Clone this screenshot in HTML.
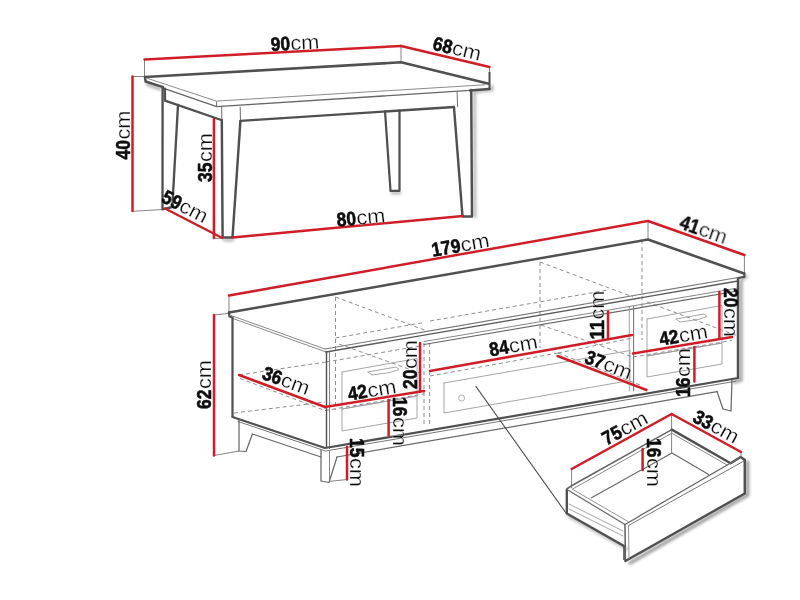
<!DOCTYPE html>
<html><head><meta charset="utf-8"><title>Dimensions</title>
<style>
html,body{margin:0;padding:0;background:#fff;}
body{width:800px;height:600px;overflow:hidden;font-family:"Liberation Sans",sans-serif;}
svg{display:block;}
text{font-family:"Liberation Sans",sans-serif;}
</style></head><body>
<svg width="800" height="600" viewBox="0 0 800 600">
<defs><filter id="bl" x="-20%" y="-20%" width="140%" height="140%"><feGaussianBlur stdDeviation="1.8"/></filter></defs>
<rect width="800" height="600" fill="#fff"/>
<g style="filter:blur(0.45px)">
<g filter="url(#bl)" fill="none" stroke-linecap="round">
<polyline points="741,280 741,380 734,382" stroke="#9a9a9a" stroke-width="3.0" fill="none"/>
<polyline points="747.5,462 747.5,495 630,563" stroke="#999" stroke-width="3.5" fill="none"/>
<polyline points="627,549 568,516" stroke="#aaa" stroke-width="2.5" fill="none"/>
<polyline points="474.5,92 475,217" stroke="#aaa" stroke-width="2.5" fill="none"/>
<polyline points="147,84 160,89" stroke="#aaa" stroke-width="3" fill="none"/>
<polyline points="224,240 233,240" stroke="#aaa" stroke-width="2.5" fill="none"/>
<polyline points="392,193 400,193" stroke="#aaa" stroke-width="2.5" fill="none"/>
<polyline points="492,86 492,90 474,92" stroke="#aaa" stroke-width="2.5" fill="none"/>
<polyline points="747,276 741,281" stroke="#aaa" stroke-width="2.5" fill="none"/>
</g>
<line x1="144.5" y1="59.5" x2="144.5" y2="76" stroke="#777" stroke-width="0.9" />
<line x1="401" y1="46" x2="401" y2="62" stroke="#777" stroke-width="0.9" />
<line x1="489.5" y1="67" x2="489.5" y2="84" stroke="#777" stroke-width="0.9" />
<line x1="132.5" y1="76.5" x2="145" y2="76.5" stroke="#777" stroke-width="0.9" />
<line x1="132.5" y1="211.3" x2="162.5" y2="209.5" stroke="#777" stroke-width="0.9" />
<line x1="214" y1="238.6" x2="222.5" y2="238.2" stroke="#777" stroke-width="0.9" />
<polyline points="145,77 401,62.3 488.9,83.8" fill="none" stroke="#505050" stroke-width="2.58" stroke-linejoin="round" stroke-linecap="round" />
<polyline points="145,77 145.6,81.5 163,87.2" fill="none" stroke="#505050" stroke-width="2.46" stroke-linejoin="round" stroke-linecap="round" />
<polyline points="146.7,78.1 216.4,101.1 485,84.8" fill="none" stroke="#8a8a8a" stroke-width="1.0" stroke-linejoin="round" stroke-linecap="round" />
<polyline points="163,88.2 216.7,106.7 470,90.4" fill="none" stroke="#666" stroke-width="1.3" stroke-linejoin="round" stroke-linecap="round" />
<polyline points="470,90.4 489.5,88.9" fill="none" stroke="#505050" stroke-width="2.46" stroke-linejoin="round" stroke-linecap="round" />
<line x1="216.5" y1="101.5" x2="216.6" y2="106.5" stroke="#777" stroke-width="1.1" />
<line x1="489.5" y1="72" x2="489.5" y2="89.5" stroke="#505050" stroke-width="2.02" />
<polyline points="164.9,88.7 165,100.7 221.3,120" fill="none" stroke="#505050" stroke-width="2.35" stroke-linejoin="round" stroke-linecap="round" />
<polyline points="240.5,120.8 454,107" fill="none" stroke="#505050" stroke-width="2.35" stroke-linejoin="round" stroke-linecap="round" />
<line x1="457.1" y1="91.5" x2="457.6" y2="107" stroke="#777" stroke-width="1.1" />
<line x1="240.2" y1="107" x2="240.5" y2="121" stroke="#777" stroke-width="1.1" />
<line x1="221.7" y1="107" x2="221.8" y2="120" stroke="#777" stroke-width="1.1" />
<polyline points="162.6,87 162.5,209.3 172.3,207 178,105" fill="none" stroke="#505050" stroke-width="2.35" stroke-linejoin="round" stroke-linecap="round" />
<polyline points="221.8,120 222.6,237.5 232.5,237.5 240.4,121" fill="none" stroke="#505050" stroke-width="2.46" stroke-linejoin="round" stroke-linecap="round" />
<polyline points="385,111 390.5,190.8 399.5,190.8 399.5,110.5" fill="none" stroke="#505050" stroke-width="2.24" stroke-linejoin="round" stroke-linecap="round" />
<polyline points="454,107.5 462.5,216.5 472,216.5 471.2,90" fill="none" stroke="#505050" stroke-width="2.46" stroke-linejoin="round" stroke-linecap="round" />
<line x1="144.5" y1="59.5" x2="401" y2="46" stroke="#cf1e28" stroke-width="2.5" stroke-linecap="round"/>
<line x1="401" y1="46" x2="489.5" y2="67" stroke="#cf1e28" stroke-width="2.5" stroke-linecap="round"/>
<line x1="132.5" y1="76.5" x2="132.5" y2="211" stroke="#cf1e28" stroke-width="2.5" stroke-linecap="round"/>
<line x1="165" y1="208.5" x2="222.3" y2="238" stroke="#cf1e28" stroke-width="2.5" stroke-linecap="round"/>
<line x1="213.9" y1="119" x2="213.9" y2="238" stroke="#cf1e28" stroke-width="2.5" stroke-linecap="round"/>
<line x1="232.5" y1="237.5" x2="463" y2="216" stroke="#cf1e28" stroke-width="2.5" stroke-linecap="round"/>
<line x1="229" y1="295.5" x2="229" y2="313" stroke="#777" stroke-width="0.9" />
<line x1="648" y1="221" x2="648" y2="239" stroke="#777" stroke-width="0.9" />
<line x1="744.4" y1="255" x2="744.4" y2="273" stroke="#777" stroke-width="0.9" />
<line x1="214" y1="315" x2="229" y2="313.3" stroke="#777" stroke-width="0.9" />
<line x1="214" y1="455.5" x2="239" y2="451" stroke="#777" stroke-width="0.9" />
<line x1="330" y1="481.3" x2="347" y2="479.5" stroke="#777" stroke-width="0.9" />
<line x1="335.5" y1="297" x2="335.5" y2="410" stroke="#8e8e8e" stroke-width="1.0" stroke-dasharray="4 3"/>
<line x1="540" y1="262" x2="540" y2="348" stroke="#8e8e8e" stroke-width="1.0" stroke-dasharray="4 3"/>
<line x1="642" y1="240" x2="642" y2="340" stroke="#8e8e8e" stroke-width="1.0" stroke-dasharray="4 3"/>
<line x1="335.5" y1="297" x2="427" y2="331" stroke="#8e8e8e" stroke-width="1.0" stroke-dasharray="4 3"/>
<line x1="540" y1="262" x2="633" y2="297" stroke="#8e8e8e" stroke-width="1.0" stroke-dasharray="4 3"/>
<line x1="335.5" y1="338" x2="424" y2="322.5" stroke="#8e8e8e" stroke-width="1.0" stroke-dasharray="4 3"/>
<line x1="430" y1="321" x2="608" y2="290" stroke="#8e8e8e" stroke-width="1.0" stroke-dasharray="4 3"/>
<line x1="239" y1="375" x2="326" y2="362" stroke="#8e8e8e" stroke-width="1.0" stroke-dasharray="4 3"/>
<line x1="326" y1="362" x2="420" y2="346" stroke="#8e8e8e" stroke-width="1.0" stroke-dasharray="4 3"/>
<line x1="234" y1="413" x2="325" y2="402" stroke="#8e8e8e" stroke-width="1.0" stroke-dasharray="4 3"/>
<line x1="240" y1="378.5" x2="325" y2="410.5" stroke="#8e8e8e" stroke-width="1.0" stroke-dasharray="4 3"/>
<line x1="325" y1="410.5" x2="424" y2="394" stroke="#8e8e8e" stroke-width="1.0" stroke-dasharray="4 3"/>
<line x1="339" y1="344" x2="420" y2="373" stroke="#8e8e8e" stroke-width="1.0" stroke-dasharray="4 3"/>
<line x1="541" y1="325" x2="633" y2="357" stroke="#8e8e8e" stroke-width="1.0" stroke-dasharray="4 3"/>
<line x1="424" y1="343" x2="424" y2="427" stroke="#8e8e8e" stroke-width="1.0" stroke-dasharray="4 3"/>
<line x1="429.6" y1="343" x2="429.6" y2="427" stroke="#8e8e8e" stroke-width="1.0" stroke-dasharray="4 3"/>
<line x1="430" y1="376" x2="558" y2="353" stroke="#8e8e8e" stroke-width="1.0" stroke-dasharray="4 3"/>
<line x1="558" y1="353" x2="633" y2="338" stroke="#8e8e8e" stroke-width="1.0" stroke-dasharray="4 3"/>
<line x1="558" y1="353" x2="640" y2="385" stroke="#8e8e8e" stroke-width="1.0" stroke-dasharray="4 3"/>
<line x1="633" y1="357" x2="732" y2="340.5" stroke="#8e8e8e" stroke-width="1.0" stroke-dasharray="4 3"/>
<line x1="647" y1="302" x2="738" y2="336" stroke="#8e8e8e" stroke-width="1.0" stroke-dasharray="4 3"/>
<polyline points="342,372 417,358.5 417,396 342,409 342,372" fill="none" stroke="#9c9c9c" stroke-width="0.9" stroke-linejoin="round" stroke-linecap="round" />
<polyline points="342,409 417,396 417,418 342,431 342,409" fill="none" stroke="#9c9c9c" stroke-width="0.9" stroke-linejoin="round" stroke-linecap="round" />
<polyline points="444,383 630,350.5 630,380.5 444,413 444,383" fill="none" stroke="#9c9c9c" stroke-width="0.9" stroke-linejoin="round" stroke-linecap="round" />
<polyline points="647,319 722,305.5 722,343 647,356 647,319" fill="none" stroke="#9c9c9c" stroke-width="0.9" stroke-linejoin="round" stroke-linecap="round" />
<polyline points="647,356 722,343 722,364 647,377 647,356" fill="none" stroke="#9c9c9c" stroke-width="0.9" stroke-linejoin="round" stroke-linecap="round" />
<polyline points="368,372 396,367 399,369.5 390,372.5 372,375 368,372" fill="none" stroke="#9c9c9c" stroke-width="0.9" stroke-linejoin="round" stroke-linecap="round" />
<polyline points="676,319 704,314 707,316.5 698,319.5 680,322 676,319" fill="none" stroke="#9c9c9c" stroke-width="0.9" stroke-linejoin="round" stroke-linecap="round" />
<circle cx="461.6" cy="398" r="3" fill="none" stroke="#aaa" stroke-width="0.9"/>
<polyline points="229,312.5 648,239.5 744,273.5" fill="none" stroke="#505050" stroke-width="2.46" stroke-linejoin="round" stroke-linecap="round" />
<polyline points="229,312.5 229.5,316.5 232.5,317.5" fill="none" stroke="#505050" stroke-width="2.24" stroke-linejoin="round" stroke-linecap="round" />
<polyline points="744.4,273 744.4,276.8 738,278" fill="none" stroke="#505050" stroke-width="2.24" stroke-linejoin="round" stroke-linecap="round" />
<polyline points="231,315.5 325,349" fill="none" stroke="#8a8a8a" stroke-width="1.0" stroke-linejoin="round" stroke-linecap="round" />
<polyline points="325,349 738,277.5" fill="none" stroke="#777" stroke-width="1.1" stroke-linejoin="round" stroke-linecap="round" />
<polyline points="233,318.5 326,352" fill="none" stroke="#8a8a8a" stroke-width="1.0" stroke-linejoin="round" stroke-linecap="round" />
<polyline points="326,352 738,281" fill="none" stroke="#5a5a5a" stroke-width="1.3" stroke-linejoin="round" stroke-linecap="round" />
<polyline points="424,341.5 738,288" fill="none" stroke="#888" stroke-width="1.0" stroke-linejoin="round" stroke-linecap="round" />
<polyline points="424,344.5 738,291" fill="none" stroke="#666" stroke-width="1.2" stroke-linejoin="round" stroke-linecap="round" />
<line x1="232.5" y1="317.5" x2="232.5" y2="417" stroke="#505050" stroke-width="2.24" />
<line x1="326.5" y1="351" x2="326.5" y2="448" stroke="#505050" stroke-width="1.4" />
<line x1="329.5" y1="352" x2="329.5" y2="449" stroke="#777" stroke-width="0.9" />
<line x1="738" y1="278" x2="738" y2="378" stroke="#505050" stroke-width="2.46" />
<line x1="633.6" y1="306" x2="633.6" y2="391" stroke="#777" stroke-width="1.1" />
<line x1="629.3" y1="307" x2="629.3" y2="391.5" stroke="#999" stroke-width="0.9" />
<polyline points="232.5,417 325,448 738,378" fill="none" stroke="#505050" stroke-width="2.24" stroke-linejoin="round" stroke-linecap="round" />
<polyline points="238,421.5 325.5,451 736,381.2" fill="none" stroke="#777" stroke-width="1.0" stroke-linejoin="round" stroke-linecap="round" />
<polyline points="252.4,434 321,457" fill="none" stroke="#686868" stroke-width="1.25" stroke-linejoin="round" stroke-linecap="round" />
<polyline points="337,457 717,391.6" fill="none" stroke="#686868" stroke-width="1.25" stroke-linejoin="round" stroke-linecap="round" />
<polyline points="239,420 239,451 246,451.5 252.4,434" fill="none" stroke="#686868" stroke-width="1.25" stroke-linejoin="round" stroke-linecap="round" />
<polyline points="321,450 321,481 329,482.5 337,457" fill="none" stroke="#686868" stroke-width="1.25" stroke-linejoin="round" stroke-linecap="round" />
<line x1="329.5" y1="451" x2="329.5" y2="482" stroke="#777" stroke-width="0.9" />
<polyline points="717,391.5 723,409 731,411 732,379.5" fill="none" stroke="#686868" stroke-width="1.25" stroke-linejoin="round" stroke-linecap="round" />
<line x1="475.6" y1="386" x2="566" y2="513" stroke="#484848" stroke-width="1.15" />
<line x1="229" y1="295.5" x2="648" y2="221" stroke="#cf1e28" stroke-width="2.5" stroke-linecap="round"/>
<line x1="648" y1="221" x2="744.4" y2="255" stroke="#cf1e28" stroke-width="2.5" stroke-linecap="round"/>
<line x1="214" y1="315" x2="214" y2="455.5" stroke="#cf1e28" stroke-width="2.5" stroke-linecap="round"/>
<line x1="239" y1="375" x2="325" y2="407" stroke="#cf1e28" stroke-width="2.5" stroke-linecap="round"/>
<line x1="325" y1="407" x2="424" y2="391" stroke="#cf1e28" stroke-width="2.5" stroke-linecap="round"/>
<line x1="420" y1="343" x2="420" y2="391" stroke="#cf1e28" stroke-width="2.5" stroke-linecap="round"/>
<line x1="388.6" y1="400" x2="388.6" y2="435.6" stroke="#cf1e28" stroke-width="2.5" stroke-linecap="round"/>
<line x1="347" y1="447" x2="347" y2="479.5" stroke="#cf1e28" stroke-width="2.5" stroke-linecap="round"/>
<line x1="430" y1="371" x2="632" y2="335" stroke="#cf1e28" stroke-width="2.5" stroke-linecap="round"/>
<line x1="608" y1="311.5" x2="608" y2="339" stroke="#cf1e28" stroke-width="2.5" stroke-linecap="round"/>
<line x1="557.6" y1="356" x2="646.4" y2="390" stroke="#cf1e28" stroke-width="2.5" stroke-linecap="round"/>
<line x1="633" y1="353.6" x2="732" y2="337" stroke="#cf1e28" stroke-width="2.5" stroke-linecap="round"/>
<line x1="719.4" y1="292" x2="719.4" y2="338" stroke="#cf1e28" stroke-width="2.5" stroke-linecap="round"/>
<line x1="694.4" y1="347" x2="694.4" y2="381.5" stroke="#cf1e28" stroke-width="2.5" stroke-linecap="round"/>
<line x1="571.6" y1="469" x2="571.6" y2="488" stroke="#777" stroke-width="0.9" />
<line x1="671.6" y1="414" x2="671.6" y2="453" stroke="#777" stroke-width="0.9" />
<line x1="741" y1="452" x2="741" y2="458" stroke="#777" stroke-width="0.9" />
<polyline points="566.7,489 572,485.5 671.8,429.6" fill="none" stroke="#666" stroke-width="1.5" stroke-linejoin="round" stroke-linecap="round" />
<polyline points="671.8,429.6 730.6,463.2 740.6,457 744.8,460" fill="none" stroke="#505050" stroke-width="2.46" stroke-linejoin="round" stroke-linecap="round" />
<polyline points="573,488.8 671.8,433.2 727,465" fill="none" stroke="#888" stroke-width="1.0" stroke-linejoin="round" stroke-linecap="round" />
<polyline points="591.5,497.7 672,453 708.7,474.4" fill="none" stroke="#666" stroke-width="1.1" stroke-linejoin="round" stroke-linecap="round" />
<line x1="566.8" y1="489" x2="566.8" y2="513.5" stroke="#505050" stroke-width="2.35" />
<polyline points="567,489.5 625,524.5" fill="none" stroke="#666" stroke-width="1.2" stroke-linejoin="round" stroke-linecap="round" />
<polyline points="572,489 628,521.5" fill="none" stroke="#888" stroke-width="0.9" stroke-linejoin="round" stroke-linecap="round" />
<polyline points="566.8,513.5 624,546" fill="none" stroke="#505050" stroke-width="2.35" stroke-linejoin="round" stroke-linecap="round" />
<polyline points="569,504 623,531" fill="none" stroke="#9c9c9c" stroke-width="0.9" stroke-linejoin="round" stroke-linecap="round" />
<polyline points="569,509 623,536" fill="none" stroke="#9c9c9c" stroke-width="0.9" stroke-linejoin="round" stroke-linecap="round" />
<polyline points="625,524.5 625.4,561" fill="none" stroke="#606060" stroke-width="1.5" stroke-linejoin="round" stroke-linecap="round" />
<polyline points="625.4,561 744.8,493.5 744.8,460" fill="none" stroke="#505050" stroke-width="2.46" stroke-linejoin="round" stroke-linecap="round" />
<polyline points="625,524.5 740.6,457.3" fill="none" stroke="#666" stroke-width="1.3" stroke-linejoin="round" stroke-linecap="round" />
<polyline points="628.5,525.5 744,461" fill="none" stroke="#777" stroke-width="1.0" stroke-linejoin="round" stroke-linecap="round" />
<line x1="628.5" y1="525.5" x2="629" y2="559" stroke="#888" stroke-width="0.9" />
<line x1="624" y1="546" x2="624" y2="560" stroke="#505050" stroke-width="1.6" />
<line x1="571.6" y1="469" x2="671.6" y2="414" stroke="#cf1e28" stroke-width="2.5" stroke-linecap="round"/>
<line x1="671.6" y1="414" x2="741" y2="452" stroke="#cf1e28" stroke-width="2.5" stroke-linecap="round"/>
<line x1="642.6" y1="449" x2="642.6" y2="470" stroke="#cf1e28" stroke-width="2.5" stroke-linecap="round"/>
<g style="filter:grayscale(1)">
<g transform="translate(295 43.5) rotate(-3)" fill="#0d0d0d"><text x="-24.40" y="6.3" font-weight="700" font-size="19.5" textLength="19.50" lengthAdjust="spacingAndGlyphs" stroke="#0d0d0d" stroke-width="0.55" stroke-linejoin="round">90</text><text x="-4.60" y="6.3" font-size="20.2" textLength="29" lengthAdjust="spacingAndGlyphs" stroke="#fff" stroke-width="0.25">cm</text></g>
<g transform="translate(457 49) rotate(13.4)" fill="#0d0d0d"><text x="-24.40" y="6.3" font-weight="700" font-size="19.5" textLength="19.50" lengthAdjust="spacingAndGlyphs" stroke="#0d0d0d" stroke-width="0.55" stroke-linejoin="round">68</text><text x="-4.60" y="6.3" font-size="20.2" textLength="29" lengthAdjust="spacingAndGlyphs" stroke="#fff" stroke-width="0.25">cm</text></g>
<g transform="translate(123.5 135) rotate(-90)" fill="#0d0d0d"><text x="-24.40" y="6.3" font-weight="700" font-size="19.5" textLength="19.50" lengthAdjust="spacingAndGlyphs" stroke="#0d0d0d" stroke-width="0.55" stroke-linejoin="round">40</text><text x="-4.60" y="6.3" font-size="20.2" textLength="29" lengthAdjust="spacingAndGlyphs" stroke="#fff" stroke-width="0.25">cm</text></g>
<g transform="translate(205.2 157.5) rotate(-90)" fill="#0d0d0d"><text x="-24.40" y="6.3" font-weight="700" font-size="19.5" textLength="19.50" lengthAdjust="spacingAndGlyphs" stroke="#0d0d0d" stroke-width="0.55" stroke-linejoin="round">35</text><text x="-4.60" y="6.3" font-size="20.2" textLength="29" lengthAdjust="spacingAndGlyphs" stroke="#fff" stroke-width="0.25">cm</text></g>
<g transform="translate(184.8 206.8) rotate(27.5)" fill="#0d0d0d"><text x="-24.40" y="6.3" font-weight="700" font-size="19.5" textLength="19.50" lengthAdjust="spacingAndGlyphs" stroke="#0d0d0d" stroke-width="0.55" stroke-linejoin="round">59</text><text x="-4.60" y="6.3" font-size="20.2" textLength="29" lengthAdjust="spacingAndGlyphs" stroke="#fff" stroke-width="0.25">cm</text></g>
<g transform="translate(361 218) rotate(-5.3)" fill="#0d0d0d"><text x="-24.40" y="6.3" font-weight="700" font-size="19.5" textLength="19.50" lengthAdjust="spacingAndGlyphs" stroke="#0d0d0d" stroke-width="0.55" stroke-linejoin="round">80</text><text x="-4.60" y="6.3" font-size="20.2" textLength="29" lengthAdjust="spacingAndGlyphs" stroke="#fff" stroke-width="0.25">cm</text></g>
<g transform="translate(460.5 245.5) rotate(-10)" fill="#0d0d0d"><text x="-29.27" y="6.3" font-weight="700" font-size="19.5" textLength="29.25" lengthAdjust="spacingAndGlyphs" stroke="#0d0d0d" stroke-width="0.55" stroke-linejoin="round">179</text><text x="0.28" y="6.3" font-size="20.2" textLength="29" lengthAdjust="spacingAndGlyphs" stroke="#fff" stroke-width="0.25">cm</text></g>
<g transform="translate(703.5 230.5) rotate(19.5)" fill="#0d0d0d"><text x="-24.40" y="6.3" font-weight="700" font-size="19.5" textLength="19.50" lengthAdjust="spacingAndGlyphs" stroke="#0d0d0d" stroke-width="0.55" stroke-linejoin="round">41</text><text x="-4.60" y="6.3" font-size="20.2" textLength="29" lengthAdjust="spacingAndGlyphs" stroke="#fff" stroke-width="0.25">cm</text></g>
<g transform="translate(204.6 384.5) rotate(-90)" fill="#0d0d0d"><text x="-24.40" y="6.3" font-weight="700" font-size="19.5" textLength="19.50" lengthAdjust="spacingAndGlyphs" stroke="#0d0d0d" stroke-width="0.55" stroke-linejoin="round">62</text><text x="-4.60" y="6.3" font-size="20.2" textLength="29" lengthAdjust="spacingAndGlyphs" stroke="#fff" stroke-width="0.25">cm</text></g>
<g transform="translate(286 381) rotate(20.4)" fill="#0d0d0d"><text x="-24.40" y="6.3" font-weight="700" font-size="19.5" textLength="19.50" lengthAdjust="spacingAndGlyphs" stroke="#0d0d0d" stroke-width="0.55" stroke-linejoin="round">36</text><text x="-4.60" y="6.3" font-size="20.2" textLength="29" lengthAdjust="spacingAndGlyphs" stroke="#fff" stroke-width="0.25">cm</text></g>
<g transform="translate(372 390.5) rotate(-9.2)" fill="#0d0d0d"><text x="-24.40" y="6.3" font-weight="700" font-size="19.5" textLength="19.50" lengthAdjust="spacingAndGlyphs" stroke="#0d0d0d" stroke-width="0.55" stroke-linejoin="round">42</text><text x="-4.60" y="6.3" font-size="20.2" textLength="29" lengthAdjust="spacingAndGlyphs" stroke="#fff" stroke-width="0.25">cm</text></g>
<g transform="translate(410.5 364.5) rotate(-90)" fill="#0d0d0d"><text x="-24.40" y="6.3" font-weight="700" font-size="19.5" textLength="19.50" lengthAdjust="spacingAndGlyphs" stroke="#0d0d0d" stroke-width="0.55" stroke-linejoin="round">20</text><text x="-4.60" y="6.3" font-size="20.2" textLength="29" lengthAdjust="spacingAndGlyphs" stroke="#fff" stroke-width="0.25">cm</text></g>
<g transform="translate(399 421.5) rotate(90)" fill="#0d0d0d"><text x="-24.40" y="6.3" font-weight="700" font-size="19.5" textLength="19.50" lengthAdjust="spacingAndGlyphs" stroke="#0d0d0d" stroke-width="0.55" stroke-linejoin="round">16</text><text x="-4.60" y="6.3" font-size="20.2" textLength="29" lengthAdjust="spacingAndGlyphs" stroke="#fff" stroke-width="0.25">cm</text></g>
<g transform="translate(356.5 462.5) rotate(90)" fill="#0d0d0d"><text x="-24.40" y="6.3" font-weight="700" font-size="19.5" textLength="19.50" lengthAdjust="spacingAndGlyphs" stroke="#0d0d0d" stroke-width="0.55" stroke-linejoin="round">15</text><text x="-4.60" y="6.3" font-size="20.2" textLength="29" lengthAdjust="spacingAndGlyphs" stroke="#fff" stroke-width="0.25">cm</text></g>
<g transform="translate(513.5 346) rotate(-10)" fill="#0d0d0d"><text x="-24.40" y="6.3" font-weight="700" font-size="19.5" textLength="19.50" lengthAdjust="spacingAndGlyphs" stroke="#0d0d0d" stroke-width="0.55" stroke-linejoin="round">84</text><text x="-4.60" y="6.3" font-size="20.2" textLength="29" lengthAdjust="spacingAndGlyphs" stroke="#fff" stroke-width="0.25">cm</text></g>
<g transform="translate(597.5 315) rotate(-90)" fill="#0d0d0d"><text x="-24.40" y="6.3" font-weight="700" font-size="19.5" textLength="19.50" lengthAdjust="spacingAndGlyphs" stroke="#0d0d0d" stroke-width="0.55" stroke-linejoin="round">11</text><text x="-4.60" y="6.3" font-size="20.2" textLength="29" lengthAdjust="spacingAndGlyphs" stroke="#fff" stroke-width="0.25">cm</text></g>
<g transform="translate(608.5 365) rotate(21)" fill="#0d0d0d"><text x="-24.40" y="6.3" font-weight="700" font-size="19.5" textLength="19.50" lengthAdjust="spacingAndGlyphs" stroke="#0d0d0d" stroke-width="0.55" stroke-linejoin="round">37</text><text x="-4.60" y="6.3" font-size="20.2" textLength="29" lengthAdjust="spacingAndGlyphs" stroke="#fff" stroke-width="0.25">cm</text></g>
<g transform="translate(683.5 335.5) rotate(-9.5)" fill="#0d0d0d"><text x="-24.40" y="6.3" font-weight="700" font-size="19.5" textLength="19.50" lengthAdjust="spacingAndGlyphs" stroke="#0d0d0d" stroke-width="0.55" stroke-linejoin="round">42</text><text x="-4.60" y="6.3" font-size="20.2" textLength="29" lengthAdjust="spacingAndGlyphs" stroke="#fff" stroke-width="0.25">cm</text></g>
<g transform="translate(730 312.5) rotate(90)" fill="#0d0d0d"><text x="-24.40" y="6.3" font-weight="700" font-size="19.5" textLength="19.50" lengthAdjust="spacingAndGlyphs" stroke="#0d0d0d" stroke-width="0.55" stroke-linejoin="round">20</text><text x="-4.60" y="6.3" font-size="20.2" textLength="29" lengthAdjust="spacingAndGlyphs" stroke="#fff" stroke-width="0.25">cm</text></g>
<g transform="translate(684 372.5) rotate(-90)" fill="#0d0d0d"><text x="-24.40" y="6.3" font-weight="700" font-size="19.5" textLength="19.50" lengthAdjust="spacingAndGlyphs" stroke="#0d0d0d" stroke-width="0.55" stroke-linejoin="round">16</text><text x="-4.60" y="6.3" font-size="20.2" textLength="29" lengthAdjust="spacingAndGlyphs" stroke="#fff" stroke-width="0.25">cm</text></g>
<g transform="translate(625 428.5) rotate(-28.5)" fill="#0d0d0d"><text x="-24.40" y="6.3" font-weight="700" font-size="19.5" textLength="19.50" lengthAdjust="spacingAndGlyphs" stroke="#0d0d0d" stroke-width="0.55" stroke-linejoin="round">75</text><text x="-4.60" y="6.3" font-size="20.2" textLength="29" lengthAdjust="spacingAndGlyphs" stroke="#fff" stroke-width="0.25">cm</text></g>
<g transform="translate(716 427) rotate(28.5)" fill="#0d0d0d"><text x="-24.40" y="6.3" font-weight="700" font-size="19.5" textLength="19.50" lengthAdjust="spacingAndGlyphs" stroke="#0d0d0d" stroke-width="0.55" stroke-linejoin="round">33</text><text x="-4.60" y="6.3" font-size="20.2" textLength="29" lengthAdjust="spacingAndGlyphs" stroke="#fff" stroke-width="0.25">cm</text></g>
<g transform="translate(653 462.5) rotate(90)" fill="#0d0d0d"><text x="-24.40" y="6.3" font-weight="700" font-size="19.5" textLength="19.50" lengthAdjust="spacingAndGlyphs" stroke="#0d0d0d" stroke-width="0.55" stroke-linejoin="round">16</text><text x="-4.60" y="6.3" font-size="20.2" textLength="29" lengthAdjust="spacingAndGlyphs" stroke="#fff" stroke-width="0.25">cm</text></g>
</g>
</g>
</svg>
</body></html>
